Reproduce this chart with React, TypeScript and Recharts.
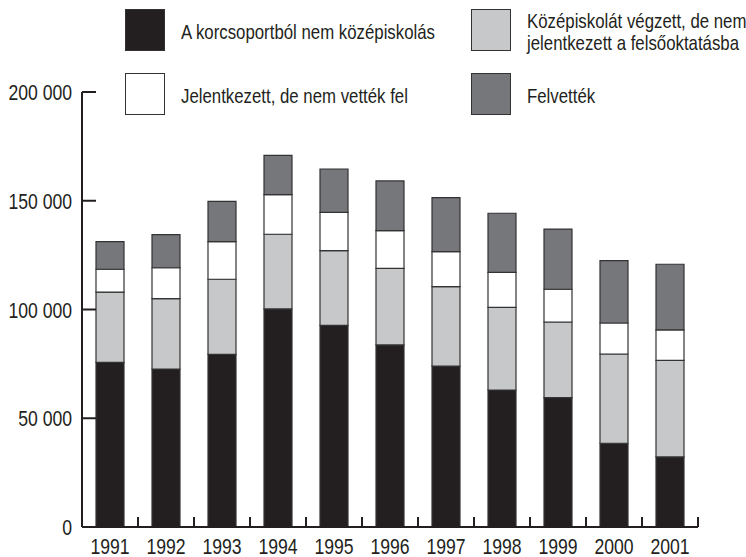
import { BarChart, Bar, XAxis, YAxis } from "recharts";

const years = ["1991", "1992", "1993", "1994", "1995", "1996", "1997", "1998", "1999", "2000", "2001"];
const notSecondary = [75700, 72650, 79400, 100250, 92700, 83700, 74000, 63000, 59450, 38500, 32200];
const notApplied = [32300, 32350, 34500, 34350, 34350, 35250, 36500, 38000, 34800, 41050, 44450];
const rejected = [10500, 14200, 17300, 18200, 17650, 17300, 16100, 16100, 15050, 14250, 13950];
const admitted = [12700, 15200, 18550, 18100, 19900, 22850, 24800, 27150, 27700, 28650, 30200];
const yTicks = [0, 50000, 100000, 150000, 200000];

const series = [
  { key: "notSecondary", name: "A korcsoportból nem középiskolás", color: "#231f20" },
  { key: "notApplied", name: "Középiskolát végzett, de nem\njelentkezett a felsőoktatásba", color: "#c7c8ca" },
  { key: "rejected", name: "Jelentkezett, de nem vették fel", color: "#ffffff" },
  { key: "admitted", name: "Felvették", color: "#76777b" },
];

const data = years.map((year, i) => ({
  year,
  notSecondary: notSecondary[i],
  notApplied: notApplied[i],
  rejected: rejected[i],
  admitted: admitted[i],
}));

const FONT = "'Liberation Sans', Arial, sans-serif";
const INK = "#231f20";
const SQUEEZE = 0.8;

const fmt = (v: number) => (v === 0 ? "0" : `${v / 1000} 000`);

const YTick = ({ x, y, payload }: any) => (
  <g>
    <line x1={x + 10} x2={x + 24} y1={y} y2={y} stroke={INK} strokeWidth={2} />
    <text
      transform={`translate(${x},${y + 8}) scale(${SQUEEZE},1)`}
      textAnchor="end"
      fontSize={22}
      fill={INK}
      fontFamily={FONT}
    >
      {fmt(payload.value)}
    </text>
  </g>
);

const XTick = ({ x, y, payload }: any) => {
  const half = payload.offset ?? 28;
  return (
    <g>
      <line x1={x + half} x2={x + half} y1={y} y2={y - 10} stroke={INK} strokeWidth={2} />
      <text
        transform={`translate(${x},${y + 27}) scale(${SQUEEZE},1)`}
        textAnchor="middle"
        fontSize={22}
        fill={INK}
        fontFamily={FONT}
      >
        {payload.value}
      </text>
    </g>
  );
};

export default function App() {
  return (
    <div style={{ position: "absolute", left: 0, top: 0, width: 746, height: 557, background: "#fff" }}>
      <BarChart
        width={746}
        height={557}
        data={data}
        margin={{ top: 92, right: 48, bottom: 0, left: 0 }}
        barSize={28}
      >
        <XAxis
          dataKey="year"
          height={30}
          tickSize={0}
          tickMargin={0}
          tickLine={false}
          axisLine={{ stroke: INK, strokeWidth: 2 }}
          tick={<XTick />}
          interval={0}
        />
        <YAxis
          width={82}
          domain={[0, 200000]}
          ticks={yTicks}
          tickSize={0}
          tickMargin={10}
          tickLine={false}
          axisLine={{ stroke: INK, strokeWidth: 2 }}
          tick={<YTick />}
        />
        {series.map((s) => (
          <Bar
            key={s.key}
            dataKey={s.key}
            stackId="a"
            fill={s.color}
            stroke="#333333"
            strokeWidth={1.2}
            isAnimationActive={false}
          />
        ))}
      </BarChart>
      {series.map((s, i) => {
        const row = Math.floor(i / 2);
        const col = i % 2;
        return (
          <div
            key={s.key}
            style={{
              position: "absolute",
              left: col === 0 ? 125 : 471,
              top: row === 0 ? 9 : 73,
              height: 42,
              display: "flex",
              alignItems: "center",
              fontFamily: FONT,
              fontSize: 21,
              color: INK,
            }}
          >
            <div
              style={{
                width: 38,
                height: 40,
                background: s.color,
                border: "1.5px solid #333",
                flex: "none",
              }}
            />
            <div
              style={{
                marginLeft: 16,
                marginTop: 3,
                whiteSpace: "pre",
                lineHeight: "22px",
                transform: `scaleX(${SQUEEZE})`,
                transformOrigin: "left center",
              }}
            >
              {s.name}
            </div>
          </div>
        );
      })}
    </div>
  );
}
